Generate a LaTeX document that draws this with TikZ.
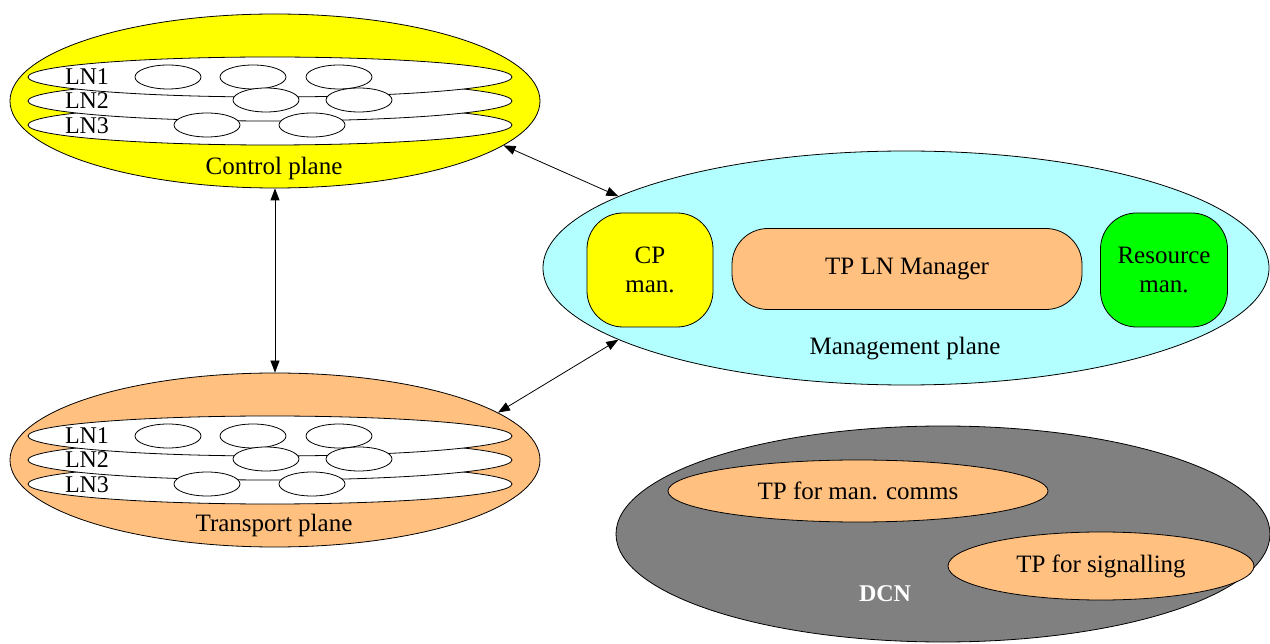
\documentclass[tikz,border=0pt]{standalone}
\usepackage{fontspec}
\setmainfont{Liberation Serif}
\usetikzlibrary{shapes.geometric,arrows.meta}
\definecolor{cpyellow}{RGB}{255,255,0}
\definecolor{tporange}{RGB}{255,192,128}
\definecolor{mpcyan}{RGB}{179,255,255}
\definecolor{rmgreen}{RGB}{0,255,0}
\definecolor{dcngray}{RGB}{128,128,128}
\begin{document}
\begin{tikzpicture}[x=1pt,y=-1pt,
 every node/.style={font=\fontsize{25}{29}\selectfont, inner sep=0pt},
 lnfont/.style={font=\fontsize{24}{29}\selectfont},
 plane/.style={ellipse, draw, line width=0.8pt, minimum width=530pt, minimum height=174pt},
 lnband/.style={ellipse, draw, fill=white, line width=0.8pt, minimum width=484pt, minimum height=40pt},
 lnnode/.style={ellipse, draw, fill=white, line width=0.8pt, minimum width=66pt, minimum height=24pt},
 mbox/.style={rectangle, rounded corners=36pt, draw, line width=0.8pt, align=center},
 inell/.style={ellipse, draw, line width=0.8pt, fill=tporange},
 link/.style={line width=0.8pt, {Triangle[length=12pt,width=9pt]}-{Triangle[length=12pt,width=9pt]}}
]
\useasboundingbox (0,0) rectangle (1270,644);

% Control plane
\node[plane, fill=cpyellow] (cp) at (275,101) {};
\node[lnband] (cln3) at (270,125) {};
\node[lnband] (cln2) at (270,101) {};
\node[lnband] (cln1) at (270,77) {};
\node[lnnode] (ca1) at (168,77) {};
\node[lnnode] (ca2) at (253,77) {};
\node[lnnode] (ca3) at (339,77) {};
\node[lnnode] (cb1) at (266,100) {};
\node[lnnode] (cb2) at (359,100) {};
\node[lnnode] (cc1) at (207,125) {};
\node[lnnode] (cc2) at (312,125) {};
\node[lnfont] (clab1) at (87,77) {LN1};
\node[lnfont] (clab2) at (87,101) {LN2};
\node[lnfont] (clab3) at (87,126) {LN3};
\node (cptext) at (274,168) {Control plane};

% Transport plane
\node[plane, fill=tporange] (tp) at (275,460) {};
\node[lnband] (tln3) at (270,484) {};
\node[lnband] (tln2) at (270,460) {};
\node[lnband] (tln1) at (270,436) {};
\node[lnnode] (ta1) at (168,436) {};
\node[lnnode] (ta2) at (253,436) {};
\node[lnnode] (ta3) at (339,436) {};
\node[lnnode] (tb1) at (266,459) {};
\node[lnnode] (tb2) at (359,459) {};
\node[lnnode] (tc1) at (207,484) {};
\node[lnnode] (tc2) at (312,484) {};
\node[lnfont] (tlab1) at (87,436) {LN1};
\node[lnfont] (tlab2) at (87,460) {LN2};
\node[lnfont] (tlab3) at (87,485) {LN3};
\node (tptext) at (274,525) {Transport plane};

% Management plane
\node[ellipse, draw, line width=0.8pt, fill=mpcyan, minimum width=726pt, minimum height=234pt] (mp) at (906,268) {};
\node[mbox, fill=cpyellow, minimum width=126pt, minimum height=114pt] (cpm) at (650,270) {CP\\man.};
\node[mbox, fill=tporange, minimum width=350pt, minimum height=81pt] (tplm) at (907,269) {TP LN Manager};
\node[mbox, fill=rmgreen, minimum width=127pt, minimum height=114pt] (rm) at (1164,270) {Resource\\man.};
\node (mptext) at (905,349) {Management plane};

% DCN
\node[ellipse, draw, line width=0.8pt, fill=dcngray, minimum width=654pt, minimum height=216pt] (dcn) at (943,534) {};
\node[inell, minimum width=380pt, minimum height=62pt] (tpmc) at (858,491) {TP for man. comms};
\node[inell, minimum width=306pt, minimum height=68pt] (tpsig) at (1101,566) {TP for signalling};
\node[text=white, font=\fontsize{24}{29}\selectfont\bfseries] (dcnlab) at (885,594) {DCN};

% Connectors
\draw[link] (cp.south) -- (tp.north);
\draw[link] (cp.-11.7) -- (mp.166.3);
\draw[link] (tp.12.3) -- (mp.194.3);
\end{tikzpicture}
\end{document}
